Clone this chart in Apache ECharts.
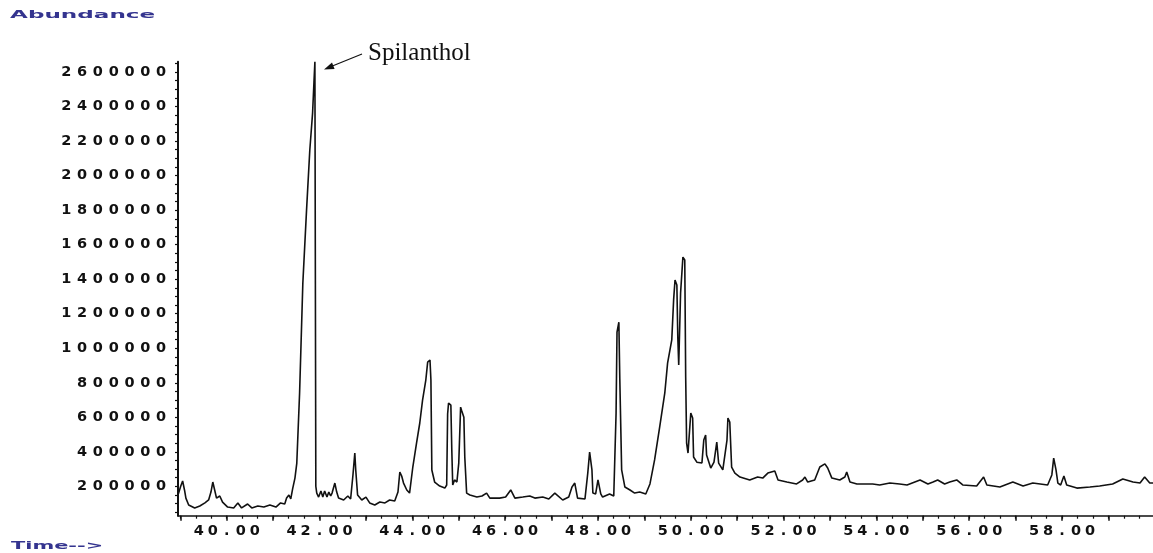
<!DOCTYPE html>
<html>
<head>
<meta charset="utf-8">
<script src="https://cdn.jsdelivr.net/npm/echarts@6.0.0/dist/echarts.min.js"></script>
<style>
  html, body { margin: 0; padding: 0; background: #fff; }
  #chart { width: 1153px; height: 553px; }
</style>
</head>
<body>
<div id="chart"></div>
<script>
// retention time (min)
const times = [
  38.95,39.01,39.05,39.09,39.12,39.18,39.31,39.42,39.53,39.61,
  39.66,39.70,39.74,39.78,39.85,39.91,40.02,40.15,40.24,40.32,
  40.45,40.54,40.67,40.80,40.93,41.06,41.16,41.25,41.29,41.34,
  41.38,41.42,41.47,41.51,41.57,41.64,41.72,41.79,41.85,41.88,
  41.90,41.92,41.94,41.98,42.03,42.07,42.11,42.16,42.20,42.24,
  42.27,42.33,42.37,42.41,42.52,42.61,42.67,42.72,42.76,42.78,
  42.82,42.91,43.00,43.08,43.19,43.30,43.41,43.51,43.62,43.69,
  43.73,43.77,43.81,43.88,43.94,44.01,44.09,44.16,44.22,44.29,
  44.33,44.38,44.40,44.42,44.48,44.59,44.70,44.74,44.76,44.78,
  44.83,44.85,44.87,44.91,44.96,45.00,45.04,45.06,45.11,45.13,
  45.17,45.24,45.39,45.50,45.60,45.67,45.88,46.01,46.12,46.21,
  46.38,46.53,46.64,46.81,46.94,47.07,47.24,47.37,47.44,47.50,
  47.56,47.72,47.78,47.82,47.87,47.89,47.95,48.00,48.06,48.10,
  48.25,48.34,48.39,48.41,48.45,48.47,48.51,48.58,48.69,48.79,
  48.90,49.03,49.12,49.22,49.33,49.44,49.50,49.59,49.63,49.66,
  49.70,49.72,49.74,49.78,49.83,49.87,49.89,49.91,49.94,50.00,
  50.04,50.06,50.13,50.24,50.28,50.32,50.34,50.43,50.50,50.56,
  50.60,50.69,50.78,50.80,50.84,50.88,50.95,51.06,51.27,51.44,
  51.55,51.66,51.81,51.88,52.07,52.28,52.41,52.46,52.52,52.67,
  52.78,52.89,52.95,53.04,53.21,53.32,53.36,53.43,53.58,53.92,
  54.07,54.29,54.50,54.66,54.94,55.11,55.22,55.32,55.47,55.58,
  55.73,55.86,56.16,56.31,56.38,56.66,56.94,57.16,57.37,57.69,
  57.78,57.82,57.87,57.91,57.97,58.04,58.10,58.32,58.60,58.81,
  59.09,59.31,59.53,59.68,59.78,59.89,59.96
];
// abundance
const abundance = [
  150000,202000,231000,179000,132000,92000,75000,86000,104000,121000,
  167000,225000,179000,132000,144000,109000,80000,75000,104000,75000,
  98000,75000,86000,80000,92000,80000,104000,98000,132000,150000,
  127000,185000,248000,335000,739000,1377000,1800000,2147000,2362000,2542000,
  2660000,200000,161000,138000,173000,138000,173000,138000,167000,144000,
  161000,219000,167000,132000,121000,144000,127000,266000,393000,295000,
  150000,121000,138000,104000,92000,109000,104000,121000,115000,167000,
  283000,260000,219000,179000,161000,312000,451000,567000,700000,816000,
  920000,932000,816000,295000,225000,202000,190000,208000,619000,682000,
  670000,410000,208000,237000,225000,335000,659000,641000,601000,369000,
  161000,150000,138000,144000,161000,132000,132000,138000,179000,132000,
  138000,144000,132000,138000,127000,161000,121000,138000,196000,219000,
  132000,127000,277000,399000,295000,161000,156000,237000,156000,138000,
  156000,144000,624000,1093000,1151000,827000,295000,196000,179000,161000,
  167000,156000,214000,353000,544000,741000,914000,1048000,1280000,1395000,
  1366000,1065000,903000,1320000,1528000,1511000,833000,451000,393000,625000,
  596000,370000,340000,335000,468000,497000,382000,306000,340000,457000,
  335000,295000,468000,596000,573000,312000,277000,254000,237000,254000,
  248000,277000,289000,237000,225000,214000,237000,254000,225000,237000,
  312000,330000,306000,248000,237000,254000,283000,225000,214000,214000,
  208000,219000,214000,208000,237000,214000,225000,237000,214000,225000,
  237000,208000,202000,254000,208000,196000,225000,202000,219000,208000,
  266000,364000,295000,219000,208000,260000,208000,190000,196000,202000,
  214000,243000,225000,219000,254000,219000,219000
];

const xLabelValues = [40, 42, 44, 46, 48, 50, 52, 54, 56, 58];
const yLabelValues = [200000, 400000, 600000, 800000, 1000000, 1200000, 1400000,
  1600000, 1800000, 2000000, 2200000, 2400000, 2600000];

const xMin = 38.95, xMax = 59.96;
const yMin = 30000, yMax = 2660000;

// tick positions
const xMinorTicks = [];
for (let k = 117; k <= 179; k++) xMinorTicks.push(k / 3);
const xMajorTicks = [];
for (let m = 39; m <= 59; m++) xMajorTicks.push(m);
const yTicks = [];
for (let v = 50000; v <= 2650000; v += 50000) yTicks.push(v);

const seriesData = times.map((t, i) => [t, abundance[i]]);

// the original labels use a very wide font: give every character its own box
function wide(str) {
  return str.split('').map(c => '{c|' + c + '}').join('');
}

const labelFont = { fontFamily: 'DejaVu Sans', fontWeight: 'bold', fontSize: 14.5, color: '#111' };
const titleColor = '#34348f';

const chart = echarts.init(document.getElementById('chart'));
chart.setOption({
  animation: false,
  backgroundColor: '#fff',
  grid: { left: 178, right: 0, top: 61.7, bottom: 37.3, outerBoundsMode: 'none' },
  xAxis: [{
    type: 'value', min: xMin, max: xMax, position: 'bottom',
    axisLine: { lineStyle: { color: '#111', width: 1.5 } },
    axisTick: { customValues: xMinorTicks, length: 3, lineStyle: { color: '#111', width: 1.2 } },
    axisLabel: {
      customValues: xLabelValues, margin: 8,
      formatter: v => wide(v.toFixed(2)),
      rich: { c: Object.assign({ width: 14, align: 'center' }, labelFont) }
    },
    splitLine: { show: false }
  }, {
    type: 'value', min: xMin, max: xMax, position: 'bottom',
    axisLine: { show: false },
    axisTick: { customValues: xMajorTicks, length: 5, lineStyle: { color: '#111', width: 1.5 } },
    axisLabel: { show: false },
    splitLine: { show: false }
  }],
  yAxis: {
    type: 'value', min: yMin, max: yMax,
    axisLine: { show: true, lineStyle: { color: '#111', width: 2 } },
    axisTick: { show: true, customValues: yTicks, length: 3, lineStyle: { color: '#111', width: 1.2 } },
    axisLabel: {
      customValues: yLabelValues, margin: 9,
      formatter: v => wide(String(v)),
      rich: { c: Object.assign({ width: 15.8, align: 'center' }, labelFont) }
    },
    splitLine: { show: false }
  },
  series: [{
    type: 'line',
    data: seriesData,
    showSymbol: false,
    symbol: 'none',
    clip: false,
    lineStyle: { color: '#111', width: 1.6 }
  }],
  graphic: [
    {
      type: 'text', left: 10, top: 10, scaleX: 2.1,
      style: { text: 'Abundance', font: 'bold 11px "DejaVu Sans"', fill: titleColor }
    },
    {
      type: 'text', left: 11, top: 541, scaleX: 1.9,
      style: { text: 'Time-->', font: 'bold 11px "DejaVu Sans"', fill: titleColor }
    },
    {
      type: 'text', x: 368, y: 53,
      style: { text: 'Spilanthol', font: '25px "Liberation Serif"', fill: '#111', verticalAlign: 'middle' }
    },
    {
      type: 'line',
      shape: { x1: 362, y1: 54, x2: 333, y2: 65.8 },
      style: { stroke: '#111', lineWidth: 1.2 }
    },
    {
      type: 'polygon',
      shape: { points: [[324, 69.5], [334.6, 68.9], [332.0, 62.5]] },
      style: { fill: '#111' }
    }
  ]
});
</script>
</body>
</html>
